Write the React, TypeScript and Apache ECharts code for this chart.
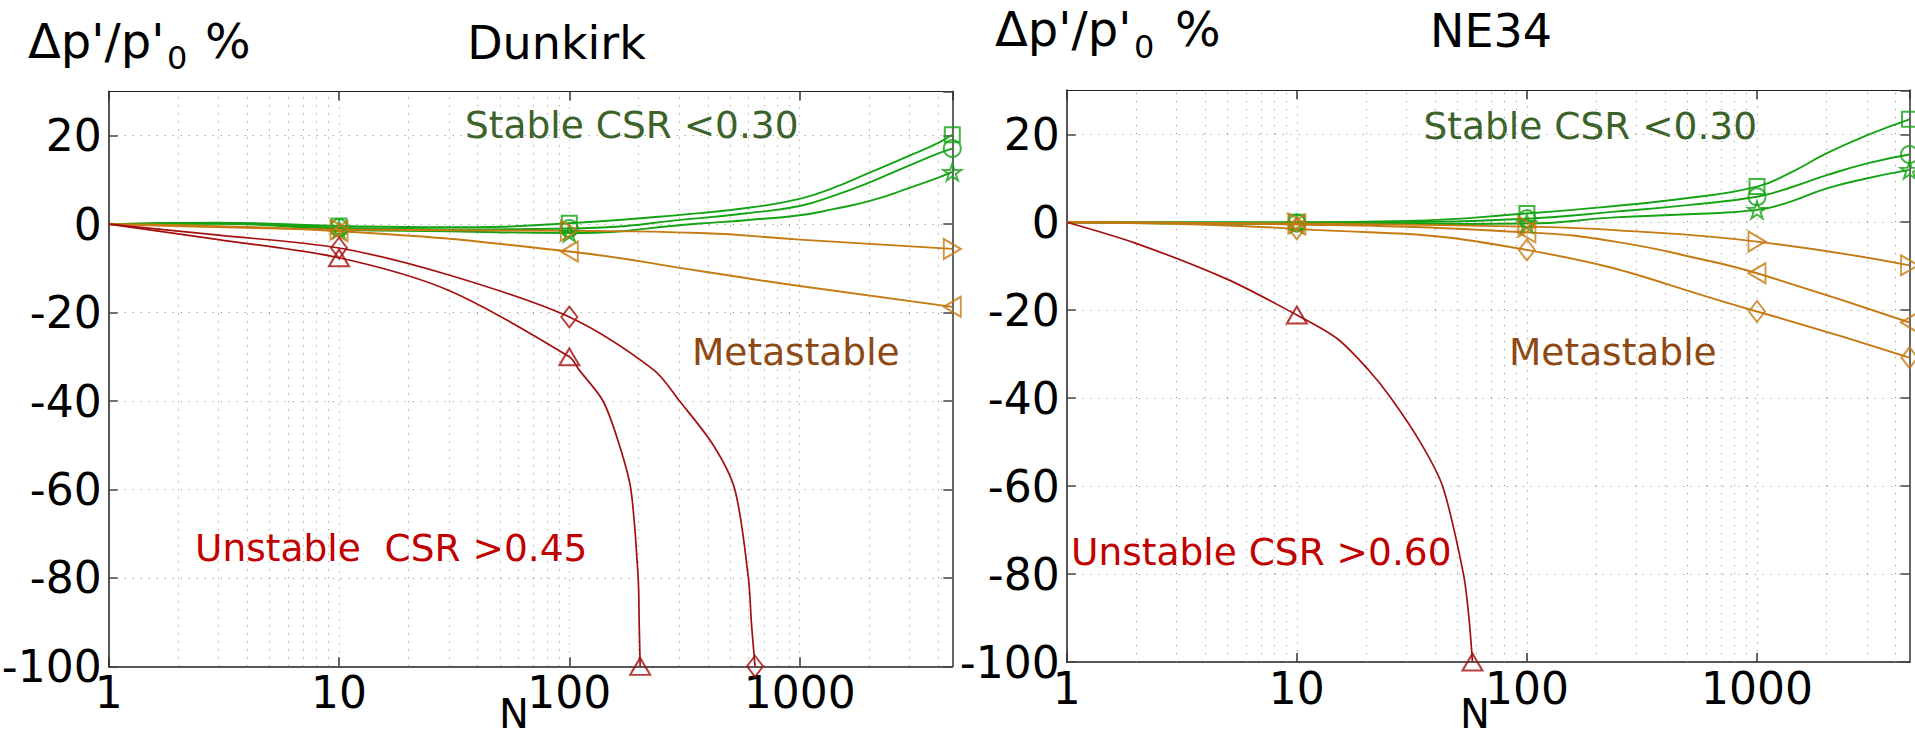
import React, { useEffect, useRef } from "react";
import * as echarts from "echarts";

// ---------- axes ----------
const X_MIN = 1;
const X_MAX = 4600;
const Y_MIN = -100;
const Y_MAX = 30;
const Y_STEP = 20;
const MINOR_GRID_N = [2, 3, 4, 5, 6, 7, 8, 9, 20, 30, 40, 50, 60, 70, 80, 90, 200, 300, 400, 500, 600, 700, 800, 900, 2000, 3000, 4000];

// ---------- Dunkirk (left panel) : [N, dp'/p'0 %] ----------
const dkStableSquare: [number, number][] = [[1, 0], [3, 0.3], [10, -0.4], [30, -0.7], [100, 0.2], [369, 2.5], [600, 3.7], [1000, 5.7], [1400, 8.2], [2000, 11.6], [3000, 15.5], [4000, 18.4], [4600, 20.2]];
const dkStableCircle: [number, number][] = [[1, 0], [3, 0.2], [10, -0.8], [30, -1.2], [100, -1.0], [369, 1.35], [600, 2.5], [1000, 4.1], [1400, 6.4], [2000, 9.4], [3000, 13.3], [4000, 16], [4600, 17.1]];
const dkStableStar: [number, number][] = [[1, 0], [3, 0.1], [10, -1.2], [30, -1.6], [100, -2.0], [369, 0.15], [600, 0.95], [1000, 2.0], [1400, 3.4], [2000, 5.2], [3000, 8.2], [4000, 10.5], [4600, 11.8]];
const dkMetaRight: [number, number][] = [[1, 0], [10, -1.2], [100, -1.5], [369, -2.0], [1000, -3.5], [4600, -5.6]];
const dkMetaLeft: [number, number][] = [[1, 0], [10, -1.6], [100, -6.2], [369, -10.6], [1000, -14.0], [4600, -18.7]];
const dkUnstTri: [number, number][] = [[1, 0], [3, -3.5], [10, -7.6], [30, -15], [100, -30], [110, -32.9], [140, -40], [165, -50], [185, -60], [199, -80], [201, -90], [203, -100]];
const dkUnstDiam: [number, number][] = [[1, 0], [3, -2.5], [10, -5.4], [30, -11.5], [100, -21], [233, -33], [301, -40], [422, -50], [523, -60], [599, -80], [617, -90], [640, -100]];
const dkMarkN = [10, 100, 4600];
const dkTriMarkN = [10, 100, 203];
const dkDiamMarkN = [10, 100, 640];

// ---------- NE34 (right panel) ----------
const neStableSquare: [number, number][] = [[1, 0], [10, 0], [30, 0.3], [100, 2.0], [241, 3.7], [500, 5.5], [1000, 8.1], [1400, 11.3], [2013, 15.7], [3015, 19.8], [4600, 23.4]];
const neStableCircle: [number, number][] = [[1, 0], [10, -0.2], [30, 0], [100, 0.8], [241, 2.4], [500, 3.9], [1000, 5.8], [1400, 7.9], [2013, 10.7], [3015, 13.4], [4600, 15.4]];
const neStableStar: [number, number][] = [[1, 0], [10, -0.4], [30, -0.4], [100, -0.3], [241, 1.1], [500, 1.8], [1000, 2.8], [1400, 4.7], [2013, 7.7], [3015, 10], [4600, 11.9]];
const neMetaRight: [number, number][] = [[1, 0], [10, -0.3], [100, -1.0], [241, -1.8], [1000, -4.4], [4600, -9.8]];
const neMetaLeft: [number, number][] = [[1, 0], [10, -0.5], [100, -2.3], [241, -4.4], [594, -8.6], [1000, -11.6], [4600, -22.8]];
const neMetaDiam: [number, number][] = [[1, 0], [10, -1.5], [100, -6.3], [1000, -20.3], [4600, -30.8]];
const neUnstTri: [number, number][] = [[1, 0], [2, -4.8], [5, -13], [10, -21.1], [15, -26.5], [20.5, -33.6], [25.7, -40], [34.4, -50], [43, -60], [53, -80], [56, -90], [58, -100]];
const neMarkN = [10, 100, 1000, 4600];
const neTriMarkN = [10, 58];

// ---------- style ----------
const FONT = "DejaVu Sans";
const GREEN = "#15a315";
const ORANGE = "#c57a12";
const RED = "#a30f0f";
const TXT_GREEN = "#3b6229";
const TXT_BROWN = "#8e4813";
const TXT_RED = "#c10000";
const GRID_LINE = { color: "#8a8a8a", type: [1, 7] as number[], width: 1 };
const STAR = "path://M50 0 L61.2 34.5 L97.6 34.5 L68.2 55.9 L79.4 90.5 L50 69.1 L20.6 90.5 L31.8 55.9 L2.4 34.5 L38.8 34.5 Z";

const SYM: Record<string, { symbol: string; size: number[]; rotate: number }> = {
  square: { symbol: "rect", size: [15, 15], rotate: 0 },
  circle: { symbol: "circle", size: [17, 17], rotate: 0 },
  star: { symbol: STAR, size: [18, 17], rotate: 0 },
  right: { symbol: "triangle", size: [20, 17], rotate: -90 },
  left: { symbol: "triangle", size: [20, 17], rotate: 90 },
  up: { symbol: "triangle", size: [20, 17], rotate: 0 },
  diamond: { symbol: "diamond", size: [16, 21], rotate: 0 },
};

type Curve = { name: string; panel: number; data: [number, number][]; marks: number[]; color: string; sym: string; width: number; smooth: number };

const CURVES: Curve[] = [
  { name: "Dunkirk stable 1", panel: 0, data: dkStableSquare, marks: dkMarkN, color: GREEN, sym: "square", width: 1.9, smooth: 0.5 },
  { name: "Dunkirk stable 2", panel: 0, data: dkStableCircle, marks: dkMarkN, color: GREEN, sym: "circle", width: 1.9, smooth: 0.5 },
  { name: "Dunkirk stable 3", panel: 0, data: dkStableStar, marks: dkMarkN, color: GREEN, sym: "star", width: 1.9, smooth: 0.5 },
  { name: "Dunkirk metastable 1", panel: 0, data: dkMetaRight, marks: dkMarkN, color: ORANGE, sym: "right", width: 1.9, smooth: 0.5 },
  { name: "Dunkirk metastable 2", panel: 0, data: dkMetaLeft, marks: dkMarkN, color: ORANGE, sym: "left", width: 1.9, smooth: 0.5 },
  { name: "Dunkirk unstable 1", panel: 0, data: dkUnstTri, marks: dkTriMarkN, color: RED, sym: "up", width: 1.7, smooth: 0.3 },
  { name: "Dunkirk unstable 2", panel: 0, data: dkUnstDiam, marks: dkDiamMarkN, color: RED, sym: "diamond", width: 1.7, smooth: 0.3 },
  { name: "NE34 stable 1", panel: 1, data: neStableSquare, marks: neMarkN, color: GREEN, sym: "square", width: 1.9, smooth: 0.5 },
  { name: "NE34 stable 2", panel: 1, data: neStableCircle, marks: neMarkN, color: GREEN, sym: "circle", width: 1.9, smooth: 0.5 },
  { name: "NE34 stable 3", panel: 1, data: neStableStar, marks: neMarkN, color: GREEN, sym: "star", width: 1.9, smooth: 0.5 },
  { name: "NE34 metastable 1", panel: 1, data: neMetaRight, marks: neMarkN, color: ORANGE, sym: "right", width: 1.9, smooth: 0.5 },
  { name: "NE34 metastable 2", panel: 1, data: neMetaLeft, marks: neMarkN, color: ORANGE, sym: "left", width: 1.9, smooth: 0.5 },
  { name: "NE34 metastable 3", panel: 1, data: neMetaDiam, marks: neMarkN, color: ORANGE, sym: "diamond", width: 1.9, smooth: 0.5 },
  { name: "NE34 unstable", panel: 1, data: neUnstTri, marks: neTriMarkN, color: RED, sym: "up", width: 1.7, smooth: 0.3 },
];

const GRIDS = [
  { left: 108.7, top: 91.5, width: 843.6, height: 574.8 },
  { left: 1066.7, top: 90.3, width: 842.8, height: 571.7 },
];

function decadeLabel(v: number): string {
  const lg = Math.log10(v);
  const r = Math.round(lg);
  if (Math.abs(lg - r) < 1e-6) return String(Math.round(Math.pow(10, r)));
  return "";
}

function buildOption() {
  const xAxis: any[] = [];
  const yAxis: any[] = [];
  [0, 1].forEach((p) => {
    xAxis.push({
      type: "log",
      logBase: 10,
      gridIndex: p,
      min: X_MIN,
      max: X_MAX,
      axisLine: { show: true, onZero: false, lineStyle: { color: "#222", width: 1.5 } },
      axisTick: { show: true, inside: true, length: 9, lineStyle: { color: "#333", width: 1.5 } },
      axisLabel: { formatter: decadeLabel, fontFamily: FONT, fontSize: 44, color: "#000", margin: 4, showMaxLabel: false },
      splitLine: { show: true, lineStyle: GRID_LINE },
    });
    yAxis.push({
      type: "value",
      gridIndex: p,
      min: Y_MIN,
      max: Y_MAX,
      interval: Y_STEP,
      axisLine: { show: true, onZero: false, lineStyle: { color: "#555", width: 2 } },
      axisTick: { show: true, inside: true, length: 9, lineStyle: { color: "#444", width: 1.5 } },
      axisLabel: { fontFamily: FONT, fontSize: 44, color: "#000", margin: 7, showMaxLabel: false },
      splitLine: { show: true, lineStyle: GRID_LINE },
    });
  });
  [0, 1].forEach((p) => {
    xAxis.push({
      type: "log",
      logBase: 10,
      gridIndex: p,
      position: "top",
      min: X_MIN,
      max: X_MAX,
      axisLine: { show: true, onZero: false, lineStyle: { color: "#222", width: 1.2 } },
      axisTick: { show: true, inside: true, length: 9, lineStyle: { color: "#333", width: 1.5 } },
      axisLabel: { show: false },
      splitLine: { show: false },
    });
    yAxis.push({
      type: "value",
      gridIndex: p,
      position: "right",
      min: Y_MIN,
      max: Y_MAX,
      interval: Y_STEP,
      axisLine: { show: true, onZero: false, lineStyle: { color: "#666", width: 2 } },
      axisTick: { show: true, inside: true, length: 9, lineStyle: { color: "#444", width: 1.5 } },
      axisLabel: { show: false },
      splitLine: { show: false },
    });
  });

  const series: any[] = [];
  CURVES.forEach((c, i) => {
    const line: any = {
      name: c.name,
      type: "line",
      xAxisIndex: c.panel,
      yAxisIndex: c.panel,
      data: c.data,
      smooth: c.smooth,
      showSymbol: false,
      silent: true,
      z: 3,
      lineStyle: { color: c.color, width: c.width },
    };
    if (i === 0 || i === 7) {
      line.markLine = {
        silent: true,
        symbol: ["none", "none"],
        label: { show: false },
        lineStyle: GRID_LINE,
        z: 1,
        data: MINOR_GRID_N.map((n) => ({ xAxis: n })),
      };
    }
    series.push(line);
    const s = SYM[c.sym];
    series.push({
      name: c.name + " markers",
      type: "scatter",
      xAxisIndex: c.panel,
      yAxisIndex: c.panel,
      data: c.data.filter((d) => c.marks.indexOf(d[0]) >= 0),
      symbol: s.symbol,
      symbolSize: s.size,
      symbolRotate: s.rotate,
      silent: true,
      z: 4,
      itemStyle: { color: "rgba(255,255,255,0)", borderColor: c.color, borderWidth: 2 },
    });
  });

  const txt = (x: number, y: number, text: string, size: number, fill: string, align = "left", lineHeight?: number) => ({
    type: "text",
    x,
    y,
    silent: true,
    style: { text, fill, fontFamily: FONT, fontSize: size, textAlign: align, textVerticalAlign: "middle", lineHeight: lineHeight || Math.round(size * 1.2) },
  });

  const graphic = [
    txt(28, 40.8, "Δp'/p'", 48, "#000"),
    txt(167, 58.3, "0", 32, "#000"),
    txt(205, 40.8, "%", 48, "#000"),
    txt(556.5, 42.5, "Dunkirk", 46, "#000", "center"),
    txt(995, 29.2, "Δp'/p'", 48, "#000"),
    txt(1134, 46.7, "0", 32, "#000"),
    txt(1175, 29.2, "%", 48, "#000"),
    txt(1491, 30.8, "NE34", 46, "#000", "center"),
    txt(465, 125, "Stable CSR <0.30", 37.5, TXT_GREEN),
    txt(1423.5, 125.5, "Stable CSR <0.30", 37.5, TXT_GREEN),
    txt(692, 352, "Metastable", 37.5, TXT_BROWN),
    txt(1509, 352, "Metastable", 37.5, TXT_BROWN),
    txt(195, 547.5, "Unstable  CSR >0.45", 37.5, TXT_RED),
    txt(1071, 551.5, "Unstable CSR >0.60", 37.5, TXT_RED),
    txt(514, 714, "N", 40, "#000", "center", 32),
    txt(1475, 714, "N", 40, "#000", "center", 32),
  ];

  return {
    animation: false,
    backgroundColor: "#fff",
    textStyle: { fontFamily: FONT },
    grid: GRIDS.map((g) => ({ ...g, show: false, containLabel: false, outerBoundsMode: "none" })),
    xAxis,
    yAxis,
    series,
    graphic,
  };
}

export default function App() {
  const ref = useRef<HTMLDivElement>(null);
  useEffect(() => {
    if (!ref.current) return;
    const chart = echarts.init(ref.current, undefined, { renderer: "svg" });
    chart.setOption(buildOption() as any);
    return () => chart.dispose();
  }, []);
  return (
    <div
      ref={ref}
      style={{ position: "absolute", left: 0, top: 0, width: 1915, height: 738, background: "#fff" }}
    />
  );
}
